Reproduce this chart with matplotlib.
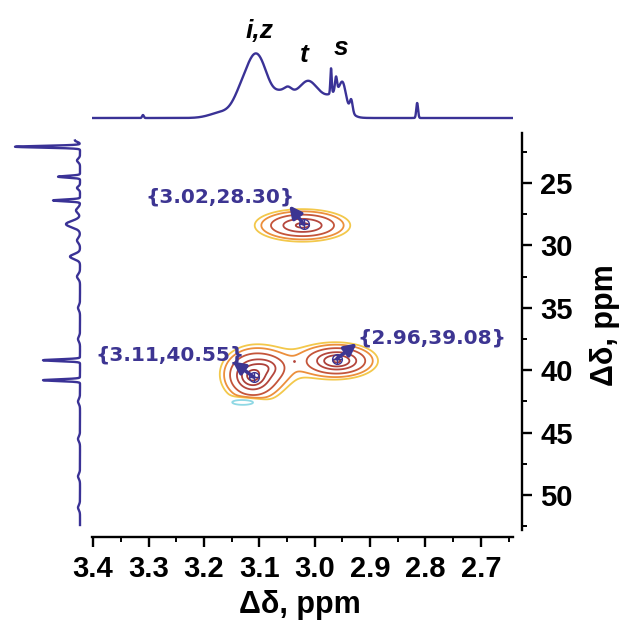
import numpy as np
import matplotlib
matplotlib.use("Agg")
import matplotlib.pyplot as plt
from matplotlib.ticker import MultipleLocator, FormatStrFormatter

# ---- data -------------------------------------------------------------
# 1H projection (top): peak centre ppm, height, width (ppm)
h_centres = [3.310, 3.165, 3.133, 3.109, 3.092, 3.058, 3.048, 3.013, 2.990, 2.955,
             2.9705, 2.9615, 2.949, 2.934, 2.815]
h_heights = [3, 6, 20, 49, 14, 27, 4, 16, 21, 18, 25, 14, 14, 12, 15]
h_widths = [0.0015, 0.022, 0.014, 0.015, 0.012, 0.028, 0.006, 0.014, 0.025, 0.013,
            0.0012, 0.0018, 0.005, 0.0025, 0.0016]

# 13C projection (left): peak centre ppm, height, width (ppm)
c_centres = [21.6, 22.1, 23.2, 24.5, 25.4, 26.4, 27.2, 28.3, 29.6, 30.9, 32.5, 35.0,
             37.5, 39.2, 40.8, 42.5, 45.5, 48.5, 51.0]
c_heights = [5, 65, 3, 22, 3, 27, 4, 14, 3, 10, 3, 2, 2, 37, 37, 2, 2, 2, 2]
c_widths = [0.1, 0.07, 0.15, 0.07, 0.12, 0.07, 0.2, 0.25, 0.2, 0.2, 0.2, 0.2,
            0.2, 0.07, 0.07, 0.2, 0.2, 0.2, 0.2]

# HSQC cross peaks: 1H ppm, 13C ppm, amplitude, widths
xp_h = [3.022, 3.112, 3.090, 2.960, 3.127]
xp_c = [28.40, 40.45, 39.80, 39.25, 42.55]
xp_amp = [0.5, 1.0, 0.3, 0.85, -0.12]
xp_wh = [0.045, 0.0217, 0.025, 0.031, 0.02]
xp_wc = [0.68, 0.85, 0.7, 0.61, 0.22]

levels = [0.05, 0.07, 0.12, 0.25, 0.45, 0.8]
level_colors = ["#f3c84b", "#ec8f3c", "#c4553a", "#b5473d", "#ad4039", "#a53a35"]

labels = ["{3.02,28.30}", "{3.11,40.55}", "{2.96,39.08}"]
label_h = [3.02, 3.11, 2.96]
label_c = [28.30, 40.55, 39.08]

BLUE = "#3a3296"
LABC = "#3d3592"


def gauss(x, c, h, w):
    return h * np.exp(-0.5 * ((x - c) / w) ** 2)


W, H = 621, 623
fig = plt.figure(figsize=(W / 100, H / 100), dpi=100)


def px_axes(x0, y0, x1, y1):
    return fig.add_axes([x0 / W, 1 - y1 / H, (x1 - x0) / W, (y1 - y0) / H])


ax = px_axes(92, 133, 513, 530)
ax_top = px_axes(92, 15, 513, 125)
ax_left = px_axes(5, 133, 85, 530)

XLIM = (3.402, 2.642)
YLIM = (52.8, 21.0)

# ---- 2D contours -------------------------------------------------------
hx = np.linspace(XLIM[0], XLIM[1], 700)
cy = np.linspace(YLIM[1], YLIM[0], 700)
HX, CY = np.meshgrid(hx, cy)
Z = np.zeros_like(HX)
for h0, c0, a, wh, wc in zip(xp_h, xp_c, xp_amp, xp_wh, xp_wc):
    if a > 0:
        Z += a / (1 + ((HX - h0) / wh) ** 2 + ((CY - c0) / wc) ** 2) ** 1.5
    else:
        Z += a * np.exp(-0.5 * (((HX - h0) / wh) ** 2 + ((CY - c0) / wc) ** 2))

ax.contour(HX, CY, Z, levels=levels, colors=level_colors, linewidths=1.3)
ax.contour(HX, CY, Z, levels=[-0.03], colors=["#8fd8e4"], linewidths=1.3,
           linestyles="solid")
ax.plot([3.037], [39.3], ".", color="#b5473d", ms=2)

for txt, h0, c0, (tx, ty), (ax0, ay0) in zip(
        labels, label_h, label_c,
        [(3.171, 26.1), (3.262, 38.8), (2.788, 37.45)],
        [(3.046, 26.8), (3.148, 39.3), (2.924, 37.85)]):
    ax.plot(h0, c0, "o", mfc="none", mec=LABC, ms=7, mew=1.0)
    ax.plot(h0, c0, "+", color=LABC, ms=7, mew=1.0)
    ax.annotate("", xy=(ax0, ay0), xytext=(h0, c0),
                arrowprops=dict(arrowstyle="-|>", color=LABC, lw=2.6,
                                mutation_scale=18, shrinkA=0, shrinkB=0))
    ax.text(tx, ty, txt, ha="center", va="center", color=LABC,
            fontsize=14.5, fontweight="bold", family="DejaVu Sans")

ax.set_xlim(*XLIM)
ax.set_ylim(*YLIM)
for s in ["top", "left"]:
    ax.spines[s].set_visible(False)
ax.spines["bottom"].set_position(("outward", 5))
ax.spines["right"].set_position(("outward", 6.5))
ax.spines["bottom"].set_linewidth(1.7)
ax.spines["right"].set_linewidth(1.7)
ax.yaxis.tick_right()
ax.xaxis.set_major_locator(MultipleLocator(0.1))
ax.xaxis.set_minor_locator(MultipleLocator(0.05))
ax.xaxis.set_major_formatter(FormatStrFormatter("%.1f"))
ax.yaxis.set_major_locator(MultipleLocator(5))
ax.yaxis.set_minor_locator(MultipleLocator(2.5))
ax.tick_params(which="major", direction="out", length=7, width=1.7, labelsize=21, pad=6)
ax.tick_params(which="minor", direction="out", length=3.5, width=1.4)
for lab in ax.get_xticklabels() + ax.get_yticklabels():
    lab.set_fontweight("bold")
    lab.set_family("Liberation Sans")

fig.text(300 / W, 1 - 605 / H, "Δδ, ppm", ha="center", va="center",
         fontsize=22, fontweight="bold", family="Liberation Sans")
fig.text(605 / W, 1 - 325 / H, "Δδ, ppm", ha="center", va="center", rotation=90,
         fontsize=22, fontweight="bold", family="Liberation Sans")

# ---- top projection ----------------------------------------------------
xs = np.linspace(XLIM[0], XLIM[1], 4000)
top = np.zeros_like(xs)
for c, h, w in zip(h_centres, h_heights, h_widths):
    top += gauss(xs, c, h, w)
ax_top.plot(xs, top, color=BLUE, lw=1.7)
ax_top.set_xlim(*XLIM)
ax_top.set_ylim(-7, 103)
ax_top.axis("off")
for txt, x0, y0 in [("i,z", 3.10, 87), ("t", 3.018, 63), ("s", 2.953, 70)]:
    ax_top.text(x0, y0, txt, ha="center", va="center", fontsize=19,
                fontweight="bold", style="italic", family="Liberation Sans")

# ---- left projection ---------------------------------------------------
ys = np.linspace(21.6, 52.4, 6000)
left = np.zeros_like(ys)
for c, h, w in zip(c_centres, c_heights, c_widths):
    left += gauss(ys, c, h, w)
ax_left.plot(left, ys, color=BLUE, lw=1.7)
ax_left.set_xlim(75, -5)
ax_left.set_ylim(*YLIM)
ax_left.axis("off")

fig.savefig("out.png", dpi=100)
